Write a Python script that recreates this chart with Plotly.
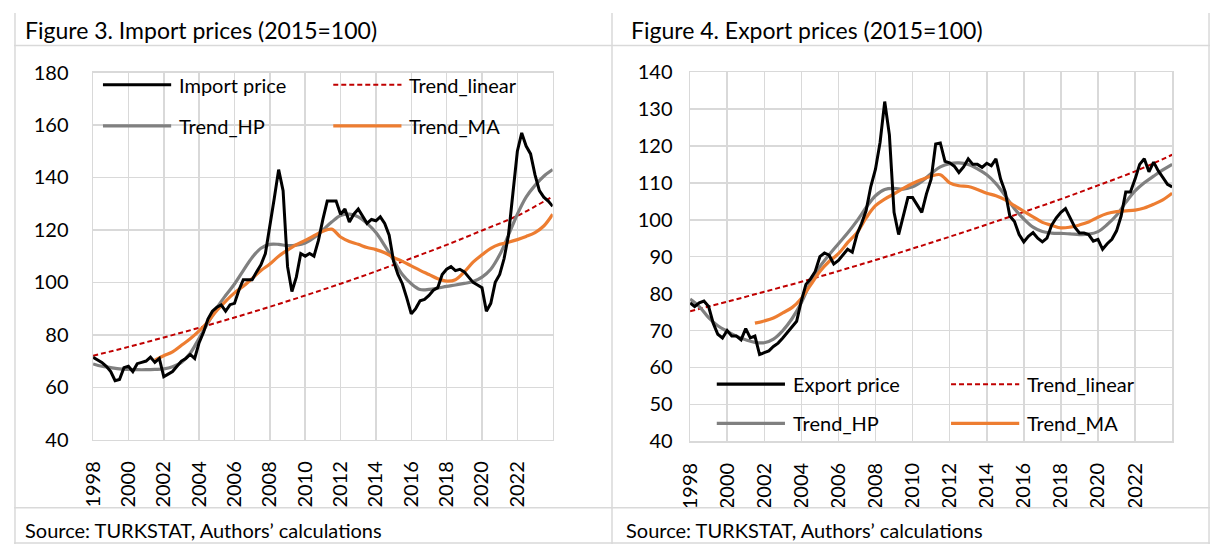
import pandas as pd
import plotly.graph_objects as go

W, H = 1210, 555

# ---- time axes ----
quarters = pd.date_range("1998-01-01", "2024-01-01", freq="QS")
halves = pd.date_range("1998-01-01", "2024-01-01", freq="6MS")
ma_halves = pd.date_range("2001-07-01", "2024-01-01", freq="6MS")
lin_years = pd.date_range("1998-01-01", "2024-01-01", freq="24MS")

tick_years = list(range(1998, 2025, 2))
tick_vals = [pd.Timestamp(f"{y}-01-01") for y in tick_years]
tick_text = [str(y) if y < 2024 else "" for y in tick_years]

# ---- Figure 3: import prices (quarterly readings) ----
import_price = [
    71.4, 70.5, 69.5, 68,
    66, 62.5, 63, 67.5,
    68, 66, 69, 69.5,
    70, 71.5, 69.5, 71,
    64, 65, 66, 68,
    70, 71, 72.5, 71,
    77, 81, 86, 89,
    90.5, 91.4, 89, 91.5,
    92, 97, 101, 101,
    101, 104, 106.7, 111,
    121, 132, 143, 135,
    106, 96.5, 102, 111,
    110, 111, 110, 116,
    124, 131, 131, 131,
    126, 128, 123, 126,
    128, 125, 122.5, 124,
    123.5, 125, 122.5, 118,
    108, 103, 99.5, 94,
    88, 90, 93, 93.5,
    95, 97, 98, 103,
    105, 106, 104.5, 105,
    104, 102, 100, 99,
    98, 89, 92, 100,
    103, 109, 118, 134,
    150, 157, 152, 149,
    141, 135, 132.5, 131,
    129,
]
import_hp = [
    68.9, 68, 67.5, 67, 66.8, 66.7, 66.7, 66.8, 67, 67.8,
    69.5, 73, 78.7, 84.5, 90.3, 95, 99.4, 104.5, 109.5, 113,
    114.5, 114.5, 114, 114.2, 115, 117, 120, 123, 125.5, 126,
    125, 122.5, 119, 114, 108.5, 103, 99.5, 97.3, 97.3, 97.8,
    98.5, 99, 99.6, 100.3, 102, 105, 110.5, 118, 126, 132.5,
    137, 140.5, 143,
]
import_ma = [
    70.3, 72, 73.5, 76, 78.5, 81.5, 85, 89.3, 92.8, 96,
    98.5, 101.5, 104.5, 107, 110, 112.3, 114.4, 116, 117.8, 119.5,
    120.3, 117.3, 115.6, 114.5, 113.3, 112.5, 111.3, 109.5, 108, 106.3,
    104.6, 103, 101.4, 100.5, 101, 104, 107.7, 110.5, 113, 114.5,
    115.3, 116.3, 117.5, 119, 121.5, 126,
]
import_linear = [72.0, 75.4, 79.0, 82.7, 86.6, 90.7, 95.0, 99.5, 104.2, 109.2, 114.3, 119.8, 125.4, 132.8]

# ---- Figure 4: export prices ----
export_price = [
    77.5, 76.5, 77.5, 78,
    76.5, 72, 69, 68,
    70, 68.5, 68.5, 67.5,
    70.5, 68, 68.5, 63.5,
    64, 64.5, 65.7, 66.6,
    68, 69.5, 71, 72.5,
    78, 82.5, 84, 86,
    90, 91, 90.4, 88,
    89, 90.5, 92, 91.2,
    96, 99, 102.5, 109,
    113.7, 121, 132, 123,
    102, 96, 101, 106,
    106, 104, 102, 107,
    111, 120.5, 120.8, 115.8,
    115.4, 114.5, 112.8, 114.3,
    116.5, 115, 115, 114.2,
    115.3, 114.6, 116.5, 111,
    107.5, 101, 99.5, 96,
    94, 95.5, 96.5, 95,
    94, 95, 98.5, 100.5,
    102, 103, 100.7, 98,
    96.4, 96.4, 96, 94.2,
    94.7, 92, 93.5, 94.7,
    97, 101, 107.5, 107.5,
    111, 115, 116.5, 113,
    115.6, 113.3, 111.5, 109.6,
    108.9,
]
export_hp = [
    78.5, 76.5, 73.5, 71.3, 69.8, 68.5, 67.5, 66.8, 66.7, 67.7,
    70, 73.2, 77.5, 83, 87.3, 90.5, 93.5, 96.4, 99.7, 103.3,
    106.5, 108.2, 108.5, 108.3, 108.9, 110.4, 112.5, 114.3, 115.2, 115.4,
    115, 113.8, 112.2, 109.8, 106.5, 103, 100.2, 98, 96.8, 96.4,
    96.3, 96.2, 96, 96.1, 96.8, 98.7, 101.2, 104.7, 107.8, 110,
    111.8, 113.5, 115,
]
export_ma = [
    72, 72.6, 73.4, 74.8, 76.2, 78.7, 82.3, 86, 88.7, 90.8,
    93.8, 96.5, 100.5, 103.8, 105.6, 107, 108.5, 109.8, 110.9, 111.8,
    112.2, 110, 109.2, 109, 108.2, 107.2, 106.5, 105.4, 103.8, 102.3,
    100.8, 99.3, 98.5, 97.8, 98, 98.6, 99.4, 100.7, 101.7, 102.2,
    102.4, 102.6, 103.2, 104.2, 105.4, 107.2,
]
export_linear = [75.2, 77.8, 80.5, 83.2, 86.1, 89.1, 92.2, 95.4, 98.7, 102.1, 105.6, 109.3, 113.1, 117.6]

# ---- styles ----
FONT = "Lato"
BLACK, GREY, ORANGE, RED = "#000000", "#808080", "#ED7D31", "#C00000"
GRID = "#d9d9d9"
BORDER = "#d9d9d9"
SHORT_DASH = "5px,3px"


def px(x):
    return x / W


def py(y):
    return 1 - y / H


fig = go.Figure()

panels = [
    dict(xa="x", ya="y", price=import_price, hp=import_hp, ma=import_ma, lin=import_linear,
         label="Import price"),
    dict(xa="x2", ya="y2", price=export_price, hp=export_hp, ma=export_ma, lin=export_linear,
         label="Export price"),
]

for p in panels:
    fig.add_trace(go.Scatter(x=lin_years, y=p["lin"], xaxis=p["xa"], yaxis=p["ya"], mode="lines",
                             line=dict(color=RED, width=2, dash=SHORT_DASH, shape="spline"),
                             name="Trend_linear", showlegend=False))
    fig.add_trace(go.Scatter(x=halves, y=p["hp"], xaxis=p["xa"], yaxis=p["ya"], mode="lines",
                             line=dict(color=GREY, width=3.2, shape="spline"),
                             name="Trend_HP", showlegend=False))
    fig.add_trace(go.Scatter(x=ma_halves, y=p["ma"], xaxis=p["xa"], yaxis=p["ya"], mode="lines",
                             line=dict(color=ORANGE, width=3.2, shape="spline"),
                             name="Trend_MA", showlegend=False))
    fig.add_trace(go.Scatter(x=quarters, y=p["price"], xaxis=p["xa"], yaxis=p["ya"], mode="lines",
                             line=dict(color=BLACK, width=3),
                             name=p["label"], showlegend=False))

# plot areas in pixels: (left, right, top, bottom)
left_box = (80, 545, 62.3, 446)
right_box = (684, 1171.7, 61.7, 447.7)

xaxis_common = dict(
    type="date", range=["1998-01-01", "2024-01-01"], tickmode="array",
    tickvals=tick_vals, ticktext=tick_text, tickangle=-90,
    showgrid=True, gridcolor=GRID, gridwidth=1.5, zeroline=False,
    showline=True, linecolor=GRID, linewidth=1.5, mirror=True,
    ticks="", tickfont=dict(family=FONT, size=20, color="#000"), ticklabelstandoff=12,
)
yaxis_common = dict(
    showgrid=True, gridcolor=GRID, gridwidth=1.5, zeroline=False,
    showline=True, linecolor=GRID, linewidth=1.5, mirror=True,
    ticks="", tickfont=dict(family=FONT, size=20, color="#000"),
)

fig.update_layout(
    width=W, height=H, margin=dict(l=0, r=0, t=0, b=0),
    paper_bgcolor="white", plot_bgcolor="white", showlegend=False,
    xaxis=dict(xaxis_common, domain=[px(left_box[0]), px(left_box[1])], anchor="y"),
    yaxis=dict(yaxis_common, domain=[py(left_box[3]), py(left_box[2])], range=[40, 180],
               dtick=20, anchor="x", ticklabelstandoff=19),
    xaxis2=dict(xaxis_common, domain=[px(right_box[0]), px(right_box[1])], anchor="y2"),
    yaxis2=dict(yaxis_common, domain=[py(right_box[3]), py(right_box[2])], range=[40, 140],
                dtick=10, anchor="x2", ticklabelstandoff=12),
)

# ---- hand-drawn legends (long line samples as in the original) ----
legend_rows = [
    # (x_start, y, label, colour, dash)
    (90, 75, "Import price", BLACK, "solid"),
    (323, 75, "Trend_linear", RED, SHORT_DASH),
    (90, 118, "Trend_HP", GREY, "solid"),
    (323, 118, "Trend_MA", ORANGE, "solid"),
    (711, 388, "Export price", BLACK, "solid"),
    (948, 388, "Trend_linear", RED, SHORT_DASH),
    (711, 429, "Trend_HP", GREY, "solid"),
    (948, 429, "Trend_MA", ORANGE, "solid"),
]
shapes = []
annotations = []
for x0, y0, text, col, dash in legend_rows:
    shapes.append(dict(type="line", xref="paper", yref="paper",
                       x0=px(x0), x1=px(x0 + 69), y0=py(y0), y1=py(y0),
                       line=dict(color=col, width=2 if dash != "solid" else 3.2, dash=dash)))
    annotations.append(dict(text=text, xref="paper", yref="paper", x=px(x0 + 75), y=py(y0),
                            xanchor="left", yanchor="middle", showarrow=False,
                            font=dict(family=FONT, size=20, color="#000")))

# ---- table frame ----
for (x0, y0, x1, y1) in [(0, 34, W, 34), (0, 517, W, 517), (605, 0, 605, H),
                         (1, 0, 1, H), (W - 1, 0, W - 1, H), (0, H - 1, W, H - 1)]:
    shapes.append(dict(type="line", xref="paper", yref="paper",
                       x0=px(x0), x1=px(x1), y0=py(y0), y1=py(y1),
                       line=dict(color=BORDER, width=1.5)))

for x0, text in [(9, "Figure 3. Import prices (2015=100)"), (622, "Figure 4. Export prices (2015=100)")]:
    annotations.append(dict(text=text, xref="paper", yref="paper", x=px(x0), y=py(18),
                            xanchor="left", yanchor="middle", showarrow=False,
                            font=dict(family=FONT, size=23, color="#000")))
for x0 in (9, 617):
    annotations.append(dict(text="Source: TURKSTAT, Authors’ calculations", xref="paper", yref="paper",
                            x=px(x0), y=py(540), xanchor="left", yanchor="middle", showarrow=False,
                            font=dict(family=FONT, size=20, color="#000")))

fig.update_layout(shapes=shapes, annotations=annotations)

# the page body has a default 8px margin; drop it so the figure sits at the window origin
fig.write_html("out.html", config={"displayModeBar": False, "staticPlot": True},
               post_script="document.body.style.margin='0px';")
